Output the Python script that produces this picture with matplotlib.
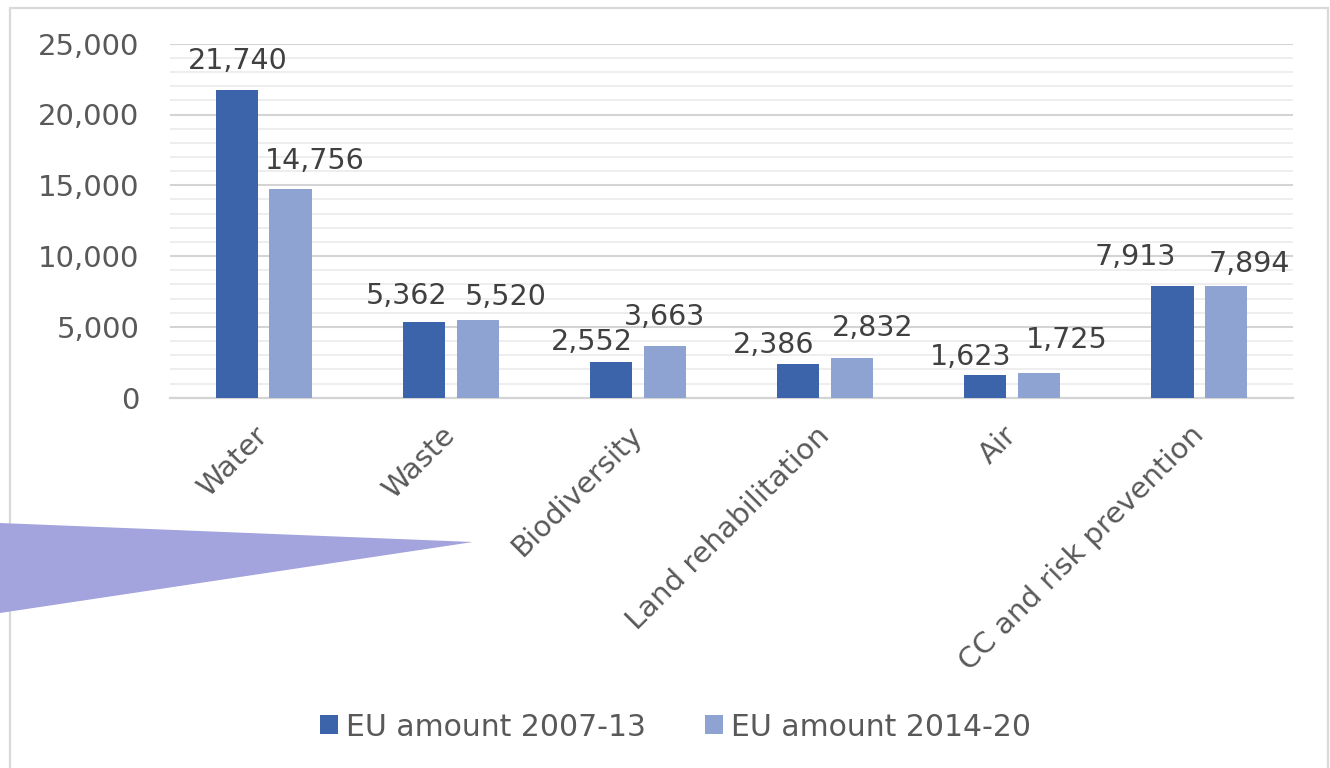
import matplotlib
matplotlib.use("Agg")
import matplotlib.pyplot as plt
import numpy as np
from matplotlib.patches import Polygon, Rectangle
from matplotlib.ticker import MultipleLocator, FuncFormatter

categories = ["Water", "Waste", "Biodiversity", "Land rehabilitation", "Air", "CC and risk prevention"]
eu_2007_13 = [21740, 5362, 2552, 2386, 1623, 7913]
eu_2014_20 = [14756, 5520, 3663, 2832, 1725, 7894]
series_names = ["EU amount 2007-13", "EU amount 2014-20"]

# label offsets in pixels (dx, dy) as placed in the original
off_dark = [(1, 29), (-17, 26), (-19, 20), (-25, 19), (-15, 18), (-37, 29)]
off_light = [(24, 28), (28, 23), (0, 29), (21, 30), (28, 33), (23, 22)]

DARK = "#3C64AA"
LIGHT = "#8FA3D3"
TXT = "#595959"
W, H = 1330, 768

plt.rcParams['font.family'] = ['DejaVu Sans']
fig = plt.figure(figsize=(W / 100, H / 100), dpi=100)
ax = fig.add_axes([170 / W, 1 - 397.7 / H, (1293 - 170) / W, (397.7 - 43.7) / H])

x = np.arange(len(categories))
bw = 0.225
off = 0.144
b1 = ax.bar(x - off, eu_2007_13, bw, color=DARK, label=series_names[0], zorder=3)
b2 = ax.bar(x + off, eu_2014_20, bw, color=LIGHT, label=series_names[1], zorder=3)

ax.set_xlim(-0.5, len(categories) - 0.5)
ax.set_ylim(0, 25000)
ax.yaxis.set_major_locator(MultipleLocator(5000))
ax.yaxis.set_minor_locator(MultipleLocator(1000))
ax.yaxis.set_major_formatter(FuncFormatter(lambda v, p: f"{int(v):,}"))
ax.grid(axis='y', which='major', color="#D4D4D4", linewidth=1.5, zorder=0)
ax.grid(axis='y', which='minor', color="#EBEBEB", linewidth=1.2, zorder=0)
for s in ["top", "right", "left"]:
    ax.spines[s].set_visible(False)
ax.spines["bottom"].set_color("#D4D4D4")
ax.spines["bottom"].set_linewidth(1.6)
ax.tick_params(axis='y', which='both', length=0, pad=22, labelsize=21, labelcolor=TXT)
ax.tick_params(axis='x', length=0, pad=24, labelsize=21, labelcolor=TXT)
ax.set_xticks(x)
ax.set_xticklabels(categories, rotation=45, ha='right', va='center', rotation_mode='anchor')

for bars, vals, offs in ((b1, eu_2007_13, off_dark), (b2, eu_2014_20, off_light)):
    for r, v, (dx, dy) in zip(bars, vals, offs):
        ax.annotate(f"{v:,}", (r.get_x() + r.get_width() / 2, v),
                    xytext=(dx * 0.72, dy * 0.72), textcoords='offset points',
                    ha='center', va='center', fontsize=20.5, color="#404040", zorder=4)

leg = fig.legend(loc='center', bbox_to_anchor=(0.508, 1 - 727 / H), ncol=2, frameon=False,
                 fontsize=21.5, handlelength=0.6, handleheight=0.6, handletextpad=0.25,
                 columnspacing=2.0, labelcolor=TXT)

# outer frame
fig.patches.append(Rectangle((10 / W, -0.1), (1328 - 10) / W, 1.1 - 8 / H, transform=fig.transFigure,
                             fill=False, edgecolor="#D9D9D9", linewidth=1.6, zorder=0))
# callout triangle
fig.patches.append(Polygon([(0, 1 - 523 / H), (473 / W, 1 - 542 / H), (0, 1 - 613 / H)],
                           closed=True, transform=fig.transFigure, facecolor="#A3A3DD",
                           edgecolor='none', zorder=5))

fig.savefig("out.png", dpi=100, facecolor="white")
